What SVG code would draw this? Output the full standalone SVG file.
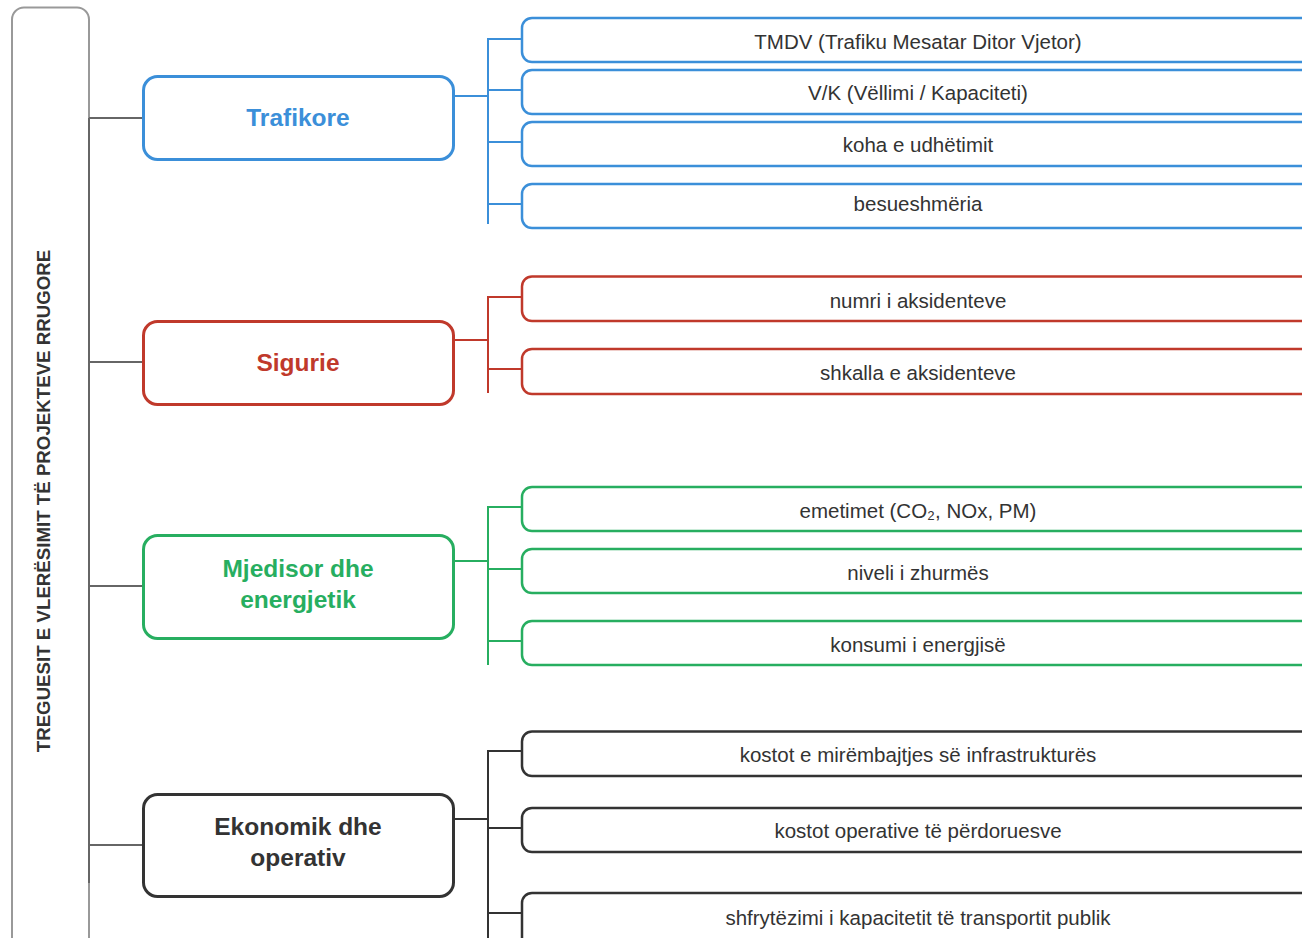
<svg xmlns="http://www.w3.org/2000/svg" width="1302" height="938" viewBox="0 0 1302 938">
<style>
.leaf{fill:#fff;stroke-width:2.5}
.cat{fill:#fff;stroke-width:3}
.lt{font-family:"Liberation Sans",Arial,sans-serif;font-size:20.5px;fill:#333;text-anchor:middle}
.ct{font-family:"Liberation Sans",Arial,sans-serif;font-size:24.5px;font-weight:bold;text-anchor:middle}
.b{stroke:#3b8fd9}.r{stroke:#c0392b}.g{stroke:#27ae60}.d{stroke:#333}
.conn line{stroke-width:2;fill:none}
</style>
<rect width="1302" height="938" fill="#fff"/>
<g id="root">
<rect x="12" y="7.5" width="77" height="960" rx="12" fill="#fff" stroke="#999" stroke-width="2"/>
<text transform="translate(50,501) rotate(-90)" font-family="Liberation Sans,Arial,sans-serif" font-size="18.7" font-weight="bold" fill="#333" text-anchor="middle">TREGUESIT E VLERËSIMIT TË PROJEKTEVE RRUGORE</text>
</g>
<g id="connectors" class="conn">
<line x1="89" y1="118" x2="89" y2="883" stroke="#666"/>
<line x1="89" y1="118" x2="143" y2="118" stroke="#666"/>
<line x1="89" y1="362" x2="143" y2="362" stroke="#666"/>
<line x1="89" y1="586" x2="143" y2="586" stroke="#666"/>
<line x1="89" y1="845" x2="143" y2="845" stroke="#666"/>
<g class="b">
<line x1="454" y1="96" x2="488" y2="96"/>
<line x1="488" y1="38" x2="488" y2="224"/>
<line x1="488" y1="39" x2="522" y2="39"/>
<line x1="488" y1="90" x2="522" y2="90"/>
<line x1="488" y1="142" x2="522" y2="142"/>
<line x1="488" y1="204" x2="522" y2="204"/>
</g>
<g class="r">
<line x1="454" y1="340" x2="488" y2="340"/>
<line x1="488" y1="296" x2="488" y2="393"/>
<line x1="488" y1="297" x2="522" y2="297"/>
<line x1="488" y1="369" x2="522" y2="369"/>
</g>
<g class="g">
<line x1="454" y1="561" x2="488" y2="561"/>
<line x1="488" y1="506" x2="488" y2="665"/>
<line x1="488" y1="507" x2="522" y2="507"/>
<line x1="488" y1="569" x2="522" y2="569"/>
<line x1="488" y1="641" x2="522" y2="641"/>
</g>
<g class="d">
<line x1="454" y1="819" x2="488" y2="819"/>
<line x1="488" y1="750" x2="488" y2="940"/>
<line x1="488" y1="751" x2="522" y2="751"/>
<line x1="488" y1="828" x2="522" y2="828"/>
<line x1="488" y1="913" x2="522" y2="913"/>
</g>
</g>
<g id="cat-trafikore"><rect class="cat b" x="143.5" y="76.5" width="310" height="83" rx="14"/><text class="ct" x="298" y="126" fill="#3b8fd9">Trafikore</text></g>
<g id="cat-sigurie"><rect class="cat r" x="143.5" y="321.5" width="310" height="83" rx="14"/><text class="ct" x="298" y="371" fill="#c0392b">Sigurie</text></g>
<g id="cat-mjedisor"><rect class="cat g" x="143.5" y="535.5" width="310" height="103" rx="14"/><text class="ct" x="298" y="577" fill="#27ae60">Mjedisor dhe</text><text class="ct" x="298" y="608" fill="#27ae60">energjetik</text></g>
<g id="cat-ekonomik"><rect class="cat d" x="143.5" y="794.5" width="310" height="102" rx="14"/><text class="ct" x="298" y="835" fill="#333">Ekonomik dhe</text><text class="ct" x="298" y="866" fill="#333">operativ</text></g>
<g id="leaf-tmdv"><rect class="leaf b" x="522" y="18" width="820" height="44" rx="10"/><text class="lt" x="918" y="49">TMDV (Trafiku Mesatar Ditor Vjetor)</text></g>
<g id="leaf-vk"><rect class="leaf b" x="522" y="70" width="820" height="44" rx="10"/><text class="lt" x="918" y="100">V/K (Vëllimi / Kapaciteti)</text></g>
<g id="leaf-koha"><rect class="leaf b" x="522" y="122" width="820" height="44" rx="10"/><text class="lt" x="918" y="152">koha e udhëtimit</text></g>
<g id="leaf-besueshmeria"><rect class="leaf b" x="522" y="184" width="820" height="44" rx="10"/><text class="lt" x="918" y="211">besueshmëria</text></g>
<g id="leaf-numri"><rect class="leaf r" x="522" y="276.5" width="820" height="44.5" rx="10"/><text class="lt" x="918" y="308">numri i aksidenteve</text></g>
<g id="leaf-shkalla"><rect class="leaf r" x="522" y="349" width="820" height="45" rx="10"/><text class="lt" x="918" y="380">shkalla e aksidenteve</text></g>
<g id="leaf-emetimet"><rect class="leaf g" x="522" y="487" width="820" height="44" rx="10"/><text class="lt" x="918" y="518">emetimet (CO₂, NOx, PM)</text></g>
<g id="leaf-zhurma"><rect class="leaf g" x="522" y="549" width="820" height="44" rx="10"/><text class="lt" x="918" y="580">niveli i zhurmës</text></g>
<g id="leaf-energjia"><rect class="leaf g" x="522" y="621" width="820" height="44" rx="10"/><text class="lt" x="918" y="652">konsumi i energjisë</text></g>
<g id="leaf-kostot-mirembajtjes"><rect class="leaf d" x="522" y="731.5" width="820" height="44.5" rx="10"/><text class="lt" x="918" y="762">kostot e mirëmbajtjes së infrastrukturës</text></g>
<g id="leaf-kostot-operative"><rect class="leaf d" x="522" y="808" width="820" height="44" rx="10"/><text class="lt" x="918" y="838">kostot operative të përdoruesve</text></g>
<g id="leaf-kapaciteti"><rect class="leaf d" x="522" y="893" width="820" height="60" rx="10"/><text class="lt" x="918" y="925">shfrytëzimi i kapacitetit të transportit publik</text></g>
</svg>
